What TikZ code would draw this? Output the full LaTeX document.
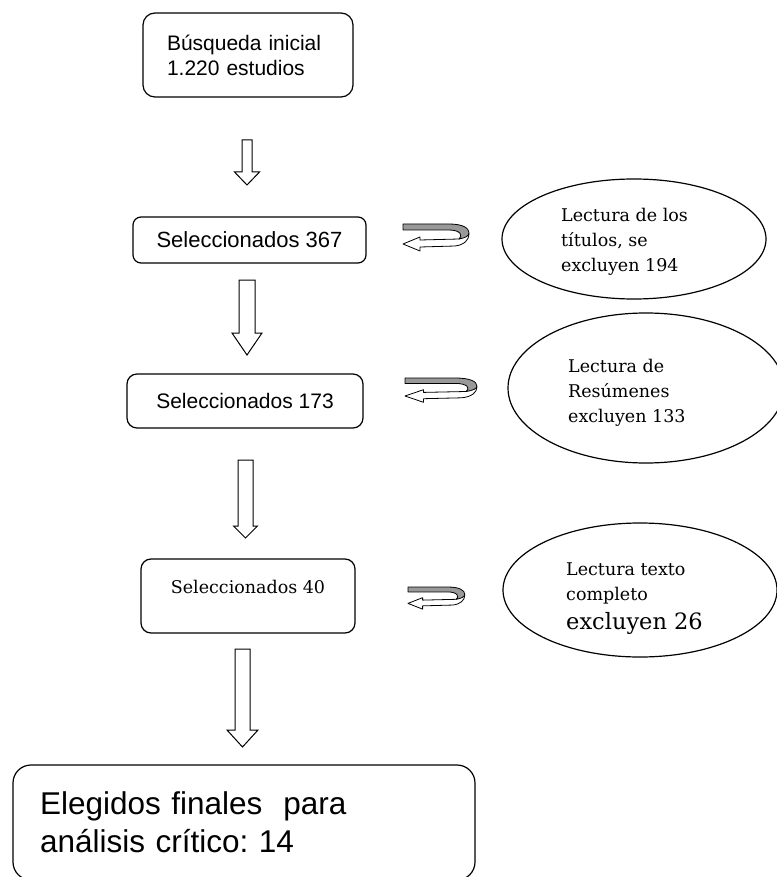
\documentclass[tikz,border=0pt]{standalone}
\usepackage{fontspec}
\setmainfont{Liberation Sans}
\newfontfamily\serifcamb{DejaVu Serif}
\usetikzlibrary{shapes.geometric,calc}
\frenchspacing

\tikzset{
  box/.style={draw, rounded corners=10pt, line width=1.2pt},
  excl/.style={draw, ellipse, line width=1.2pt, inner sep=0pt},
  excltext/.style={anchor=base west, align=left, inner sep=0pt, font=\serifcamb\fontsize{17.5}{25}\selectfont},
  blockline/.style={draw=black, fill=white, line width=1pt, line join=miter},
  pics/curl/.style={code={
    \filldraw[fill=white, draw=black, line width=0.8pt, line join=round]
      (66,10) .. controls (66,16) and (61,21) .. (52,22) -- (17,23) -- (17,27) -- (0,20) -- (17,13) -- (17,16) -- (56,15) -- cycle;
    \filldraw[fill=black!40, draw=black, line width=0.8pt, line join=round]
      (0,0) -- (46,0) .. controls (60,0) and (66,4) .. (66,9) .. controls (66,12) and (62,14) .. (56,15) .. controls (60,12) and (58,6) .. (46,6) -- (0,6) -- cycle;
  }}
}

% block arrow pointing down: from, to, shaft half width, head half width, head length
\newcommand\blockdown[5]{%
  \draw[blockline] let \p1=(#1), \p2=(#2) in
    (\x1-#3pt,\y1) -- (\x1+#3pt,\y1) -- (\x1+#3pt,\y2+#5pt) -- (\x1+#4pt,\y2+#5pt)
    -- (\x1,\y2) -- (\x1-#4pt,\y2+#5pt) -- (\x1-#3pt,\y2+#5pt) -- cycle;}

\begin{document}
\begin{tikzpicture}[x=1pt,y=-1pt]
  \useasboundingbox (0,0) rectangle (776,877);
  %Boxes
  \node[box, rounded corners=12pt, minimum width=210pt, minimum height=84pt, text width=162pt, inner xsep=24pt, align=left, font=\fontsize{21}{25}\selectfont] (busq) at (248,55) {Búsqueda inicial\\1.220 estudios};
  \node[box, rounded corners=8pt, minimum width=233pt, minimum height=46pt, font=\fontsize{22}{26}\selectfont] (sel367) at (249.5,240) {Seleccionados 367};
  \node[box, minimum width=236pt, minimum height=54pt, font=\fontsize{21}{25}\selectfont] (sel173) at (245,401) {Seleccionados 173};
  \node[box, minimum width=214pt, minimum height=74pt, font=\serifcamb\fontsize{17.5}{25}\selectfont, text height=12pt, text depth=18pt] (sel40) at (248,596) {Seleccionados 40};
  \node[box, rounded corners=18pt, minimum width=462pt, minimum height=115pt, text width=408pt, inner xsep=27pt, align=left, font=\fontsize{31.5}{38}\selectfont] (fin) at (244,822.5) {Elegidos finales \ para\\análisis crítico: 14};
  %Exclusions
  \node[excl, minimum width=264pt, minimum height=120pt] (lec1) at (634,239) {};
  \node[excltext] (txt1) at (561,271) {Lectura de los\\títulos, se\\excluyen 194};
  \node[excl, minimum width=276pt, minimum height=150pt] (lec2) at (646,388) {};
  \node[excltext] (txt2) at (568,422) {Lectura de\\Resúmenes\\excluyen 133};
  \node[excl, minimum width=274pt, minimum height=134pt] (lec3) at (640,590) {};
  \node[excltext] (txt3) at (566,629) {Lectura texto\\completo\\[4pt]{\fontsize{22.5}{29}\selectfont excluyen 26}};
  %Curled arrows
  \pic (c1) at (403,224) {curl};
  \pic[xscale=1.09, yscale=0.9] (c2) at (405,378) {curl};
  \pic[xscale=0.86, yscale=0.82] (c3) at (408,587) {curl};
  %Down arrows
  \coordinate (a1s) at (247,140); \coordinate (a1e) at (247,185);
  \coordinate (a2s) at (247,280); \coordinate (a2e) at (247,355);
  \coordinate (a3s) at (245.5,460); \coordinate (a3e) at (245.5,538);
  \coordinate (a4s) at (242.5,649); \coordinate (a4e) at (242.5,747);
  \blockdown{a1s}{a1e}{5}{12.5}{13}
  \blockdown{a2s}{a2e}{8}{15}{22}
  \blockdown{a3s}{a3e}{7.5}{12}{12}
  \blockdown{a4s}{a4e}{7.5}{15.5}{17}
\end{tikzpicture}
\end{document}
